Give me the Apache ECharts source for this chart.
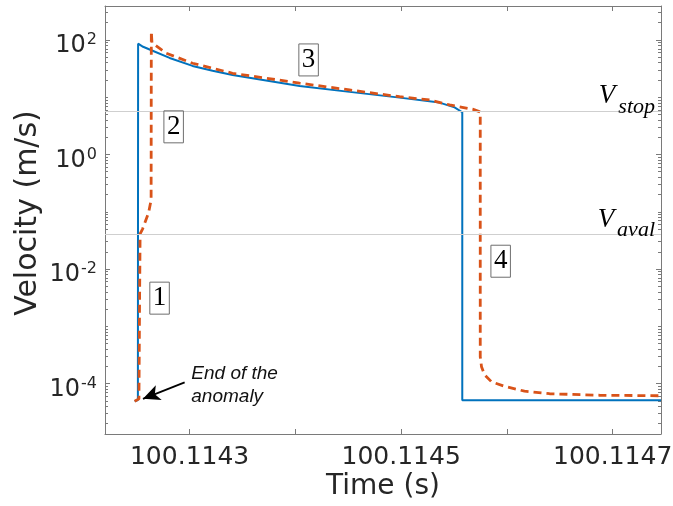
<!DOCTYPE html>
<html>
<head>
<meta charset="utf-8">
<script src="https://cdn.jsdelivr.net/npm/echarts@6/dist/echarts.min.js"></script>
<style>
html,body{margin:0;padding:0;background:#fff;}
#chart{width:673px;height:506px;}
</style>
</head>
<body>
<div id="chart"></div>
<script>
// ---- data ----
const blueTime = [100.1142480, 100.1142511, 100.1142513, 100.1142560, 100.1142622, 100.1142811, 100.1143028, 100.1143217, 100.1143406, 100.1144040, 100.1144512, 100.1144985, 100.1145363, 100.1145505, 100.1145578, 100.1145578, 100.1147457];
const blueVel  = [4.9e-5, 5.15e-5, 86, 76, 68.2, 48.5, 35.2, 29.0, 24.5, 15.7, 12.4, 9.84, 8.05, 6.65, 5.47, 5.1e-5, 5.1e-5];

const redTime = [100.1142480, 100.1142521, 100.1142527, 100.1142532, 100.1142556, 100.1142612, 100.1142636, 100.1142638, 100.1142644, 100.1142780, 100.1143028, 100.1143406, 100.1144040, 100.1144512, 100.1144985, 100.1145268, 100.1145458, 100.1145675, 100.1145748, 100.1145748, 100.1145760, 100.1145788, 100.1145855, 100.1145977, 100.1146166, 100.1146403, 100.1146875, 100.1147457];
const redVel  = [4.9e-5, 5.4e-5, 2.9e-3, 0.0411, 0.0504, 0.0957, 0.161, 139.6, 89.7, 58.6, 39.2, 26.2, 17.6, 13.4, 10.2, 8.97, 7.34, 6.18, 5.53, 2.94e-4, 1.96e-4, 1.43e-4, 1.07e-4, 8.97e-5, 7.35e-5, 6.64e-5, 6.25e-5, 6.12e-5];

const vStop = 5.77;
const vAval = 0.0411;

const xTickValues  = [100.1143, 100.1144, 100.1145, 100.1146, 100.1147];
const xLabelValues = [100.1143, 100.1145, 100.1147];
const yLabelValues = [1e-4, 1e-2, 1, 100];
const yMinorValues = [];
for (let k = -5; k <= 2; k++) {
  for (let m = 1; m <= 9; m++) {
    const v = m * Math.pow(10, k);
    if (m === 1 && (k % 2 === 0)) continue;
    yMinorValues.push(v);
  }
}

// annotation anchors (data coordinates)
const boxLabels = ['1', '2', '3', '4'];
const boxTime   = [100.1142716, 100.1142849, 100.1144125, 100.1145941];
const boxVel    = [3.1e-3, 3.04, 44.8, 0.01368];
const arrowFrom = [100.1142953, 1.05e-4];
const arrowTo   = [100.1142559, 5.4e-5];
const noteText  = 'End of the\nanomaly';
const notePos   = [100.1143016, 9.2e-5];

const X_MIN = 100.11422, X_MAX = 100.1147457;
const Y_MIN = 1.315e-5, Y_MAX = 391.7;

const FONT = 'DejaVu Sans';
const AX = '#7a7a7a';
const TXT = '#262626';

function xAxisCfg(pos, withLabels) {
  return {
    type: 'value', position: pos, min: X_MIN, max: X_MAX,
    axisLine: { show: true, onZero: false, lineStyle: { color: AX, width: 1 } },
    axisTick: { show: true, inside: true, length: 5, customValues: xTickValues, lineStyle: { color: AX } },
    axisLabel: withLabels ? {
      show: true, customValues: xLabelValues, margin: 11,
      formatter: v => Number(v).toFixed(4),
      fontFamily: FONT, fontSize: 25, color: TXT
    } : { show: false },
    splitLine: { show: false },
    name: withLabels ? 'Time (s)' : '',
    nameLocation: 'middle', nameGap: 39, nameMoveOverlap: false,
    nameTextStyle: { fontFamily: FONT, fontSize: 28, color: TXT }
  };
}
function yAxisCfg(pos, ticks, len, withLabels, showLine) {
  return {
    type: 'log', logBase: 10, position: pos, min: Y_MIN, max: Y_MAX,
    axisLine: { show: showLine, onZero: false, lineStyle: { color: AX, width: 1 } },
    axisTick: { show: true, inside: true, length: len, customValues: ticks, lineStyle: { color: AX } },
    minorTick: { show: false },
    axisLabel: withLabels ? {
      show: true, customValues: yLabelValues, margin: 8,
      padding: [12, 0, 0, 0],
      formatter: v => '{b|10}{s|' + Math.round(Math.log10(v)) + '}',
      rich: {
        b: { fontFamily: FONT, fontSize: 24, lineHeight: 24, color: TXT, verticalAlign: 'bottom' },
        s: { fontFamily: FONT, fontSize: 16, lineHeight: 16, color: TXT, verticalAlign: 'bottom', padding: [0, 0, 10, 1] }
      }
    } : { show: false },
    splitLine: { show: false },
    name: withLabels ? 'Velocity (m/s)' : '',
    nameLocation: 'middle', nameGap: 62, nameMoveOverlap: false,
    nameTextStyle: { fontFamily: FONT, fontSize: 30, color: TXT, padding: [0, 0, 0, 14] }
  };
}

const chart = echarts.init(document.getElementById('chart'), null, { renderer: 'canvas' });

const blueData = blueTime.map((t, i) => [t, blueVel[i]]);
const redData = redTime.map((t, i) => [t, redVel[i]]);

chart.setOption({
  animation: false,
  backgroundColor: '#fff',
  grid: { left: 105, right: 12, top: 6, bottom: 72, containLabel: false, outerBoundsMode: 'none' },
  xAxis: [xAxisCfg('bottom', true), xAxisCfg('top', false)],
  yAxis: [
    yAxisCfg('left', yLabelValues, 5, true, true),
    yAxisCfg('left', yMinorValues, 3, false, false),
    yAxisCfg('right', yLabelValues, 5, false, true),
    yAxisCfg('right', yMinorValues, 3, false, false)
  ],
  series: [
    {
      type: 'line', xAxisIndex: 0, yAxisIndex: 0, data: blueData,
      showSymbol: false, symbol: 'none', smooth: false,
      lineStyle: { color: '#0072BD', width: 2 },
      z: 3,
      markLine: {
        silent: true, symbol: 'none', animation: false,
        lineStyle: { color: '#cfcfcf', width: 1.2, type: 'solid' },
        label: {
          show: true, position: 'insideEndTop', distance: [6, 1],
          formatter: p => '{v|V}{s|' + p.name + '}',
          rich: {
            v: { fontFamily: 'Liberation Serif', fontStyle: 'italic', fontSize: 27, lineHeight: 27, color: '#000', verticalAlign: 'top' },
            s: { fontFamily: 'Liberation Serif', fontStyle: 'italic', fontSize: 22, lineHeight: 22, color: '#000', verticalAlign: 'top', padding: [13, 0, 0, 3] }
          }
        },
        data: [ { yAxis: vStop, name: 'stop' }, { yAxis: vAval, name: 'aval' } ]
      },
      markPoint: {
        silent: true, symbol: 'rect', symbolSize: 0, animation: false,
        label: {
          show: true, position: 'inside', formatter: '{b}',
          fontFamily: 'Liberation Serif', fontSize: 27, lineHeight: 30, color: '#000',
          borderColor: '#6e6e6e', borderWidth: 1, padding: [2, 3, 0, 3]
        },
        data: boxLabels.map((s, i) => ({ name: s, coord: [boxTime[i], boxVel[i]] })).concat([{
          name: noteText, coord: notePos,
          label: {
            show: true, position: 'right', distance: 0, formatter: '{b}', align: 'left',
            fontFamily: 'Liberation Sans', fontStyle: 'italic', fontSize: 19, lineHeight: 23,
            color: '#111', borderWidth: 0, padding: 0
          }
        }])
      }
    },
    {
      type: 'line', xAxisIndex: 0, yAxisIndex: 0, data: redData,
      showSymbol: false, symbol: 'none', smooth: false,
      lineStyle: { color: '#D95319', width: 2.8, type: [8, 5] },
      z: 4,
      markLine: {
        silent: true, animation: false,
        symbol: ['none', 'arrow'], symbolSize: [12, 17],
        lineStyle: { color: '#000', width: 1.8, type: 'solid' },
        itemStyle: { color: '#000' },
        label: { show: false },
        data: [[ { coord: arrowFrom }, { coord: arrowTo } ]]
      }
    }
  ]
});
</script>
</body>
</html>
